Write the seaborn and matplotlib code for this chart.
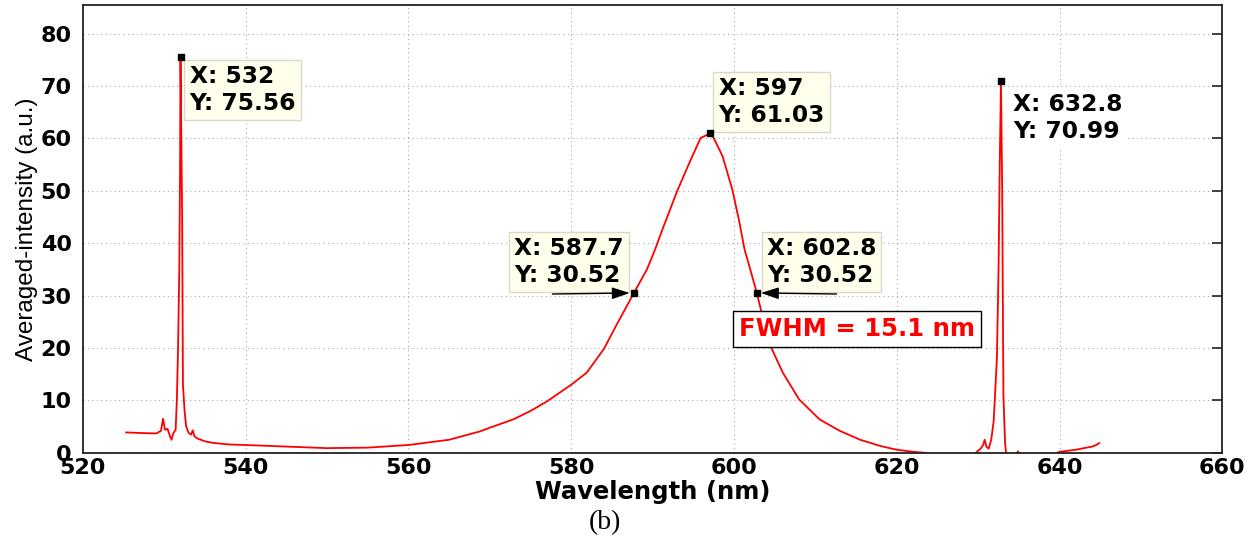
import matplotlib
matplotlib.use("Agg")
import matplotlib.pyplot as plt
import seaborn as sns
import pandas as pd

# ---------------- data ----------------
wavelength = [
    525.3, 527.0, 529.0, 529.6, 529.85, 530.1, 530.4, 530.7, 530.9, 531.1, 531.4,
    531.55, 531.7, 531.85, 531.95, 532.0, 532.1, 532.2, 532.3, 532.5, 532.7,
    533.0, 533.3, 533.5, 533.7, 534.0, 535.0, 536.0, 538.0, 540.0, 545.0, 550.0,
    555.0, 560.0, 565.0, 568.8, 570.0, 572.9, 575.0, 577.0, 580.0, 581.9, 584.0,
    585.6, 587.7, 589.3, 590.3, 591.2, 593.0, 594.7, 595.9, 596.7, 597.0, 597.5,
    598.6, 599.8, 600.6, 601.3, 602.0, 602.8, 604.3, 606.0, 608.0, 610.5, 613.0,
    615.5, 618.0, 620.0, 622.0, 623.5, 625.0, 628.0, 629.5, 629.9, 630.3, 630.6,
    630.8, 631.0, 631.3, 631.6, 631.9, 632.1, 632.3, 632.5, 632.65, 632.8, 632.95,
    633.1, 633.3, 633.45, 634.0, 634.7, 634.9, 635.1, 637.0, 639.5, 640.0, 641.0,
    642.0, 643.0, 644.0, 644.5, 644.9,
]
intensity = [
    3.9, 3.8, 3.7, 4.2, 6.5, 4.4, 4.6, 3.2, 2.5, 3.7, 4.4,
    10.0, 20.0, 35.0, 55.0, 75.56, 60.0, 45.0, 13.0, 8.0, 5.0,
    3.8, 3.5, 4.3, 3.2, 2.8, 2.2, 1.9, 1.6, 1.5, 1.2, 0.9,
    1.0, 1.5, 2.5, 4.1, 4.8, 6.4, 8.0, 9.8, 13.0, 15.3, 19.8,
    24.5, 30.52, 35.0, 38.8, 42.6, 49.9, 56.0, 60.1, 60.7, 61.03, 60.1,
    56.6, 50.2, 44.5, 38.8, 35.0, 30.52, 21.0, 15.3, 10.2, 6.4, 4.2,
    2.5, 1.3, 0.6, 0.2, 0.0, -0.8, -0.5, -0.3, 0.3, 0.8, 1.5,
    2.5, 1.2, 0.8, 2.5, 6.0, 12.0, 18.0, 35.0, 55.0, 70.99, 50.0,
    11.0, 2.0, -0.5, -0.5, -0.2, 0.3, -0.4, -0.6, -0.1, 0.2, 0.4,
    0.6, 0.9, 1.2, 1.5, 1.9,
]

# data tips (x, y)
tip_x = [532.0, 597.0, 587.7, 602.8, 632.8]
tip_y = [75.56, 61.03, 30.52, 30.52, 70.99]
tip_labels = ["X: 532\nY: 75.56", "X: 597\nY: 61.03", "X: 587.7\nY: 30.52",
              "X: 602.8\nY: 30.52", "X: 632.8\nY: 70.99"]
fwhm_text = "FWHM = 15.1 nm"

x_ticks = [520, 540, 560, 580, 600, 620, 640, 660]
y_ticks = [0, 10, 20, 30, 40, 50, 60, 70, 80]

df = pd.DataFrame({"Wavelength (nm)": wavelength, "Intensity": intensity})

# ---------------- style ----------------
sns.set_style("white")
plt.rcParams["font.family"] = ["DejaVu Sans"]
plt.rcParams["text.color"] = "black"
plt.rcParams["axes.labelcolor"] = "black"

fig = plt.figure(figsize=(12.55, 5.43), dpi=100)
ax = fig.add_axes([0.066, 0.166, 0.908, 0.825])

sns.lineplot(data=df, x="Wavelength (nm)", y="Intensity", ax=ax,
             color="#ff0000", lw=1.3, estimator=None, sort=False)

ax.set_xlim(520, 660)
ax.set_ylim(0, 85.5)
ax.set_xticks(x_ticks)
ax.set_yticks(y_ticks)
ax.grid(True, color="#a8a8a8", lw=0.8, linestyle=(0, (1, 3)))
for s in ax.spines.values():
    s.set_visible(True)
    s.set_color("#222222")
    s.set_linewidth(1.3)
ax.tick_params(direction="in", length=7, width=1.2, top=False, right=True,
               labelsize=16, colors="#222222", labelcolor="black")
ax.tick_params(axis="y", pad=8)
ax.tick_params(axis="x", pad=4)
for lab in ax.get_xticklabels() + ax.get_yticklabels():
    lab.set_fontweight("bold")

ax.set_xlabel("Wavelength (nm)", fontsize=17.5, fontweight="bold", labelpad=1)
ax.set_ylabel("Averaged-intensity (a.u.)", fontsize=17.5, labelpad=2,
              family=["Liberation Sans", "DejaVu Sans"])

# ---------------- data tips ----------------
ax.plot(tip_x, tip_y, linestyle="none", marker="s", ms=4.5, color="black",
        zorder=7)

box = dict(boxstyle="square,pad=0.22", fc="#ffffeb", ec="#d8d8cc", lw=1)
white_box = dict(boxstyle="square,pad=0.22", fc="white", ec="none")
offsets = [(9, -8), (9, 6), (-10, 6), (10, 6), (12, -12)]
has = ["left", "left", "right", "left", "left"]
vas = ["top", "bottom", "bottom", "bottom", "top"]
bboxes = [box, box, box, box, white_box]
for xv, yv, t, off, ha, va, bb in zip(tip_x, tip_y, tip_labels, offsets, has,
                                       vas, bboxes):
    ax.annotate(t, xy=(xv, yv), xytext=off, textcoords="offset pixels",
                ha=ha, va=va, multialignment="left", fontsize=16.8,
                fontweight="bold", color="black", bbox=bb,
                linespacing=1.2, zorder=6)

# arrows pointing to half-maximum points
arrow_style = dict(arrowstyle="-|>,head_length=0.9,head_width=0.3",
                   color="black", lw=1.0, shrinkA=0, shrinkB=3,
                   mutation_scale=12)
ax.annotate("", xy=(tip_x[2], tip_y[2]), xycoords="data",
            xytext=(tip_x[2] - 10.0, tip_y[2] - 0.2), textcoords="data",
            arrowprops=arrow_style, zorder=6)
ax.annotate("", xy=(tip_x[3], tip_y[3]), xycoords="data",
            xytext=(tip_x[3] + 9.8, tip_y[3] - 0.2), textcoords="data",
            arrowprops=arrow_style, zorder=6)

ax.text(0.6795, 0.277, fwhm_text, transform=ax.transAxes, ha="center",
        va="center", fontsize=17.5, fontweight="bold", color="#ff0000",
        bbox=dict(boxstyle="square,pad=0.25", fc="white", ec="black", lw=1.0),
        zorder=6)

fig.text(0.482, 0.038, "(b)", ha="center", va="center", fontsize=20,
         family=["Liberation Serif", "DejaVu Serif"])

fig.savefig("out.png", dpi=100)
